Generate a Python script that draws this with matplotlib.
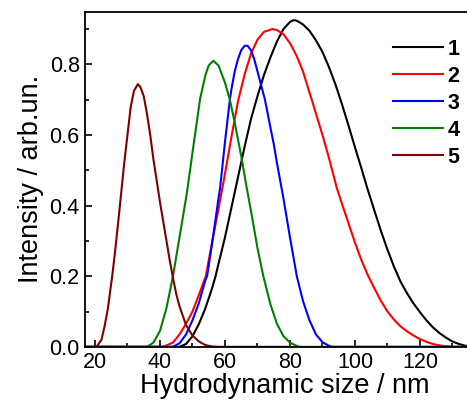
"""
DLS size distributions, curves 1-5
"""

import matplotlib
matplotlib.use("Agg")
import matplotlib.pyplot as plt
from matplotlib.ticker import MultipleLocator, FixedLocator

plt.rcParams["font.family"] = ["Liberation Sans", "DejaVu Sans"]

# values (size in nm, intensity in arb. units)
x1 = [17, 46, 48, 50, 52, 54, 56, 57.1, 58, 60, 62, 63.3, 64, 66, 68, 70, 72, 74, 76, 78, 80, 81,
      82, 84, 86, 88, 90, 92, 94, 96, 98, 100, 102, 103.6, 106, 108, 110, 112, 114, 116, 118,
      120, 122, 124, 126, 128, 130, 132, 134, 140]
y1 = [0, 0, 0.008, 0.03, 0.065, 0.11, 0.165, 0.2, 0.235, 0.31, 0.395, 0.45, 0.48, 0.565, 0.645,
      0.71, 0.77, 0.82, 0.865, 0.9, 0.92, 0.925, 0.924, 0.913, 0.895, 0.868, 0.835, 0.792, 0.743,
      0.687, 0.627, 0.565, 0.505, 0.455, 0.385, 0.328, 0.275, 0.227, 0.185, 0.152, 0.123, 0.098,
      0.075, 0.055, 0.039, 0.026, 0.015, 0.008, 0.003, 0]

x2 = [17, 41, 44, 46, 48, 50, 52, 54.1, 56, 58, 59.2, 60, 62, 64, 66, 68, 70, 72, 74.6, 76, 78, 80,
      82, 84, 86, 86.7, 88, 90, 92, 94.4, 96, 98, 100, 102, 104.1, 106, 108, 110, 112, 114, 116,
      118, 120, 122, 124, 126, 128, 130, 140]
y2 = [0, 0, 0.012, 0.035, 0.065, 0.1, 0.148, 0.2, 0.295, 0.39, 0.45, 0.49, 0.595, 0.695, 0.77,
      0.83, 0.87, 0.892, 0.9, 0.897, 0.885, 0.86, 0.825, 0.78, 0.72, 0.7, 0.66, 0.6, 0.535, 0.45,
      0.405, 0.35, 0.295, 0.245, 0.2, 0.165, 0.13, 0.1, 0.077, 0.058, 0.044, 0.032, 0.022, 0.014,
      0.008, 0.004, 0.002, 0, 0]

x3 = [17, 44, 46, 48, 50, 52, 54, 54.5, 56, 58, 58.5, 60, 61.5, 62, 63, 64, 65, 66, 66.6, 67, 68,
      69, 70, 71, 72.3, 74, 75, 76, 77.4, 78, 80, 82.1, 84, 86, 88, 90, 92, 93, 140]
y3 = [0, 0, 0.01, 0.035, 0.075, 0.125, 0.19, 0.2, 0.29, 0.42, 0.45, 0.58, 0.7, 0.73, 0.78, 0.815,
      0.84, 0.852, 0.853, 0.852, 0.84, 0.815, 0.78, 0.745, 0.7, 0.62, 0.575, 0.52, 0.45, 0.42,
      0.31, 0.2, 0.13, 0.075, 0.035, 0.013, 0.003, 0, 0]

x4 = [17, 36, 38, 40, 42, 44, 46, 48, 48.5, 50, 52, 52.3, 54, 55, 56.4, 58, 60, 61.5, 63, 65, 66.7,
      68, 70, 71.8, 74, 76, 78, 80, 82, 83, 140]
y4 = [0, 0, 0.012, 0.045, 0.11, 0.2, 0.31, 0.42, 0.45, 0.55, 0.68, 0.7, 0.77, 0.797, 0.81, 0.797,
      0.748, 0.7, 0.635, 0.54, 0.45, 0.385, 0.28, 0.2, 0.12, 0.065, 0.03, 0.012, 0.003, 0, 0]

x5 = [20.5, 22, 23, 24, 25, 25.3, 26, 27, 28, 29, 30, 31, 32, 33.2, 34, 35, 36, 37, 38, 39, 40, 41,
      42, 43, 44, 45, 46, 48, 50, 52, 54, 56, 58, 80]
y5 = [0, 0.02, 0.06, 0.11, 0.18, 0.2, 0.255, 0.34, 0.43, 0.52, 0.6, 0.68, 0.725, 0.744, 0.735,
      0.71, 0.66, 0.6, 0.53, 0.47, 0.41, 0.355, 0.3, 0.245, 0.195, 0.15, 0.115, 0.062, 0.032,
      0.015, 0.005, 0.001, 0, 0]

labels = ["1", "2", "3", "4", "5"]
colors = ["#000000", "#ff0000", "#0000ff", "#008000", "#800000"]
xticks = [20, 40, 60, 80, 100, 120]

fig = plt.figure(figsize=(4.67, 4.04), dpi=100)
# right part of the frame is cut off in the reference, so the axes run past the figure edge
ax = fig.add_axes([0.1825, 0.1415, 0.856, 0.8295])

for xs, ys, lab, col in zip([x1, x2, x3, x4, x5], [y1, y2, y3, y4, y5], labels, colors):
    ax.plot(xs, ys, color=col, lw=1.5, label=lab, solid_joinstyle="round")

ax.set_xlim(17, 140)
ax.set_ylim(0, 0.949)
ax.xaxis.set_major_locator(FixedLocator(xticks))
ax.xaxis.set_minor_locator(FixedLocator([30, 50, 70, 90, 110, 130]))
ax.yaxis.set_major_locator(MultipleLocator(0.2))
ax.yaxis.set_minor_locator(MultipleLocator(0.1))
ax.yaxis.set_major_formatter(lambda v, pos: f"{v:.1f}")
ax.tick_params(which="both", direction="in", labelsize=15.5, width=1.2)
ax.tick_params(which="major", length=5, pad=4)
ax.tick_params(which="minor", length=3)
for sp in ax.spines.values():
    sp.set_linewidth(1.3)

ax.set_xlabel("Hydrodynamic size / nm", fontsize=19.5, labelpad=0)
ax.set_ylabel("Intensity / arb.un.", fontsize=19.5, labelpad=4)

leg = ax.legend(loc="upper left", bbox_to_anchor=(382 / 467, 1 - 28 / 404),
                bbox_transform=fig.transFigure, frameon=False, handlelength=2.35,
                handletextpad=0.2, labelspacing=0.28, borderpad=0,
                prop={"size": 15.5, "weight": "bold"})

fig.savefig("out.png", dpi=100)
